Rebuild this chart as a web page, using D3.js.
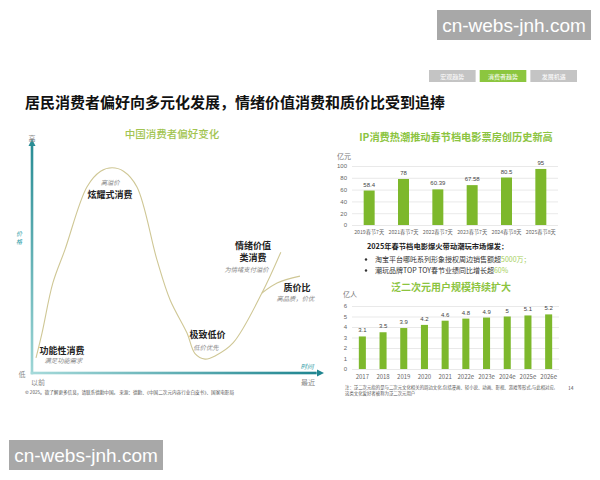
<!DOCTYPE html>
<html><head><meta charset="utf-8">
<script src="https://cdn.jsdelivr.net/npm/d3@7"></script>
<style>
body{margin:0;background:#fff;}
svg{display:block;font-family:"Noto Sans CJK SC","Noto Sans",sans-serif;}
</style></head>
<body><svg id="c" width="600" height="480"></svg>
<script>
// ---------- data ----------
const pageTitle = "居民消费者偏好向多元化发展，情绪价值消费和质价比受到追捧";
const tabs = ["宏观趋势","消费者趋势","发展机遇"];
const activeTab = 1;

// left conceptual curve (time 0-100, price level 0-100)
const curveTime  = [1.4, 3.5, 7.3, 11.5, 19.2, 24, 28, 32, 36.7, 43.7, 48.3, 54.2, 57, 60.5, 64, 70.3, 80.4, 87];
const curvePrice = [6.6, 17.5, 39.5, 54, 81.6, 88.5, 90, 88.5, 81.6, 49.6, 32, 17.5, 8.5, 6.1, 7.5, 13.2, 35.1, 53];
const branchTime  = [80.4, 85.7, 93.7];
const branchPrice = [35.1, 39.5, 42.5];
const stageNames = ["炫耀式消费","情绪价值\n类消费","质价比","极致低价","功能性消费"];
const stageNotes = ["高溢价","为情绪支付溢价","高品质，价优","低价优先","满足功能需求"];
const stageNameT = [27.3, 77.3, 92.7, 61.4, 10.5];
const stageNoteT = [27.3, 75, 92.1, 60.8, 11];
const stageNameP = [76.8, 54.2, 35.8, 15.4, 8.3];
const stageNoteP = [82.5, 44.3, 31.4, 10, 4.4];

// box office chart
const boxCats = ["2019春节7天","2021春节7天","2022春节7天","2023春节7天","2024春节8天","2025春节8天"];
const boxVals = [58.4, 78, 60.39, 67.58, 80.5, 95];
const boxTicks = [0,20,40,60,80,100];

// ACG users chart
const userCats = ["2017","2018","2019","2020","2021","2022e","2023e","2024e","2025e","2026e"];
const userVals = [3.1, 3.5, 3.9, 4.2, 4.6, 4.8, 4.9, 5, 5.1, 5.2];
const userTicks = [0,1,2,3,4,5,6];

// ---------- drawing ----------
const svg = d3.select("#c");
const green = "#7db82c", titleGreen = "#8cc43f";

// watermarks
function watermark(x,y){
  svg.append("rect").attr("x",x).attr("y",y).attr("width",154).attr("height",30).attr("fill","#a8a8a8");
  svg.append("text").attr("x",x+77).attr("y",y+22).attr("text-anchor","middle")
    .attr("font-family","Liberation Sans, Arial, sans-serif").attr("font-size",19).attr("fill","#fff").text("cn-webs-jnh.com");
}
watermark(437,10);
watermark(9,440);

// tabs
const tabX = d3.scaleBand().domain(tabs).range([429,577]).paddingInner(0.08);
tabs.forEach((t,i)=>{
  svg.append("rect").attr("x",tabX(t)).attr("y",70).attr("width",tabX.bandwidth()).attr("height",12)
    .attr("fill", i===activeTab ? "#8cc63f" : "#c4c4c4");
  svg.append("text").attr("x",tabX(t)+tabX.bandwidth()/2).attr("y",79).attr("text-anchor","middle")
    .attr("font-size",6).attr("fill","#fff").text(t);
});

// title
svg.append("text").attr("x",25).attr("y",108).attr("font-size",15).attr("font-weight","bold")
  .attr("fill","#111").text(pageTitle);

// ---------- left chart ----------
const tx = d3.scaleLinear().domain([0,100]).range([32,318]);
const py = d3.scaleLinear().domain([0,100]).range([373,145]);
const defs = svg.append("defs");
const gv = defs.append("linearGradient").attr("id","gv").attr("x1",0).attr("y1",1).attr("x2",0).attr("y2",0);
gv.append("stop").attr("offset","0%").attr("stop-color","#9ed6d6");
gv.append("stop").attr("offset","100%").attr("stop-color","#2a8d95");
const gh = defs.append("linearGradient").attr("id","gh").attr("x1",0).attr("y1",0).attr("x2",1).attr("y2",0);
gh.append("stop").attr("offset","0%").attr("stop-color","#a6dada");
gh.append("stop").attr("offset","100%").attr("stop-color","#1f8590");

svg.append("text").attr("x",172).attr("y",138).attr("text-anchor","middle").attr("font-size",10.5)
  .attr("fill","#a2c450").attr("font-weight","500").text("中国消费者偏好变化");

svg.append("rect").attr("x",tx(0)-1.3).attr("y",py(100)).attr("width",2.6).attr("height",py(0)-py(100)+1.3).attr("fill","url(#gv)");
svg.append("path").attr("d",`M${tx(0)-3.5},${py(100)+1}L${tx(0)},${py(100)-6}L${tx(0)+3.5},${py(100)+1}Z`).attr("fill","#2a8d95");
svg.append("rect").attr("x",tx(0)-1.3).attr("y",py(0)-1.3).attr("width",tx(100)-tx(0)).attr("height",2.6).attr("fill","url(#gh)");
svg.append("path").attr("d",`M${tx(100)-1},${py(0)-3.5}L${tx(100)+6},${py(0)}L${tx(100)-1},${py(0)+3.5}Z`).attr("fill","#1f8590");

svg.append("text").attr("x",tx(0)).attr("y",py(100)-4).attr("text-anchor","middle").attr("font-size",7).attr("fill","#888").text("高");
svg.append("text").attr("x",22).attr("y",py(0)+4).attr("text-anchor","middle").attr("font-size",7).attr("fill","#888").text("低");
svg.append("text").attr("x",38).attr("y",py(0)+12).attr("text-anchor","middle").attr("font-size",7).attr("fill","#888").text("以前");
svg.append("text").attr("x",308).attr("y",py(0)+12).attr("text-anchor","middle").attr("font-size",7).attr("fill","#888").text("最近");
svg.append("text").attr("x",307).attr("y",py(0)-4).attr("text-anchor","middle").attr("font-size",6.5)
  .attr("font-style","italic").attr("fill","#2a9aa5").text("时间");
["价","格"].forEach((c,i)=>svg.append("text").attr("x",19).attr("y",236+i*7.5).attr("text-anchor","middle")
  .attr("font-size",6).attr("font-style","italic").attr("fill","#2a9aa5").text(c));

const line = d3.line().x(d=>tx(d[0])).y(d=>py(d[1])).curve(d3.curveCatmullRom.alpha(0.5));
svg.append("path").attr("d",line(d3.zip(curveTime,curvePrice))).attr("fill","none").attr("stroke","#cfc795").attr("stroke-width",1.1);
svg.append("path").attr("d",line(d3.zip(branchTime,branchPrice))).attr("fill","none").attr("stroke","#cfc795").attr("stroke-width",1.1);

stageNames.forEach((n,i)=>{
  n.split("\n").forEach((l,j)=>{
    svg.append("text").attr("x",tx(stageNameT[i])).attr("y",py(stageNameP[i])+j*11.6).attr("text-anchor","middle")
      .attr("font-size",9).attr("font-weight","bold").attr("fill","#222").text(l);
  });
  svg.append("text").attr("x",tx(stageNoteT[i])).attr("y",py(stageNoteP[i])).attr("text-anchor","middle")
    .attr("font-size",6.3).attr("font-style","italic").attr("fill","#888").text(stageNotes[i]);
});

svg.append("text").attr("x",25).attr("y",394).attr("font-size",4.6).attr("fill","#555")
  .text("© 2025。欲了解更多信息，请联系德勤中国。        来源：德勤、《中国二次元内容行业白皮书》、国家电影局");

// ---------- bar charts ----------
function barChart(cats, vals, ticks, yRange, xRange, padIn, xLabY, xLabSize){
  const x = d3.scaleBand().domain(cats).range(xRange).paddingInner(padIn).paddingOuter(padIn/2);
  const y = d3.scaleLinear().domain([ticks[0], ticks[ticks.length-1]]).range(yRange);
  const ax = svg.append("g").attr("transform",`translate(${xRange[0]},0)`)
    .call(d3.axisLeft(y).tickValues(ticks).tickFormat(d3.format("d")).tickSize(-(xRange[1]-xRange[0])).tickPadding(5));
  ax.select(".domain").remove();
  ax.selectAll(".tick line").attr("stroke","#e3e3e3").attr("stroke-width",0.8);
  ax.selectAll(".tick text").attr("font-size",6).attr("fill","#666").attr("font-family","Liberation Sans, Arial, sans-serif");
  svg.selectAll(null).data(cats).enter().append("rect")
    .attr("x",d=>x(d)).attr("width",x.bandwidth())
    .attr("y",(d,i)=>y(vals[i])).attr("height",(d,i)=>y(0)-y(vals[i])).attr("fill",green);
  svg.selectAll(null).data(cats).enter().append("text")
    .attr("x",d=>x(d)+x.bandwidth()/2).attr("y",(d,i)=>y(vals[i])-4).attr("text-anchor","middle")
    .attr("font-size",6).attr("fill","#444").attr("font-family","Liberation Sans, Arial, sans-serif").text((d,i)=>vals[i]);
  svg.selectAll(null).data(cats).enter().append("text")
    .attr("x",d=>x(d)+x.bandwidth()/2).attr("y",xLabY).attr("text-anchor","middle")
    .attr("font-size",xLabSize).attr("fill","#666").text(d=>d);
}

svg.append("text").attr("x",456).attr("y",141).attr("text-anchor","middle").attr("font-size",10.2)
  .attr("font-weight","bold").attr("fill",titleGreen).text("IP消费热潮推动春节档电影票房创历史新高");
svg.append("text").attr("x",337).attr("y",159).attr("font-size",7).attr("fill","#777").text("亿元");
barChart(boxCats, boxVals, boxTicks, [225,166], [352,558], 0.68, 234, 5.2);

svg.append("text").attr("x",367).attr("y",249).attr("font-size",7.3).attr("font-weight","bold").attr("fill","#222")
  .text("2025年春节档电影爆火带动潮玩市场爆发：");
const b1 = svg.append("text").attr("x",375).attr("y",262).attr("font-size",7).attr("fill","#333");
b1.append("tspan").text("淘宝平台哪吒系列形象授权周边销售额超");
b1.append("tspan").attr("fill","#a6cf5a").text("5000万；");
const b2 = svg.append("text").attr("x",375).attr("y",273).attr("font-size",7).attr("fill","#333");
b2.append("tspan").text("潮玩品牌TOP TOY春节业绩同比增长超");
b2.append("tspan").attr("fill","#a6cf5a").text("60%");
[262,273].forEach(yy=>svg.append("circle").attr("cx",366).attr("cy",yy-2.5).attr("r",1.2).attr("fill","#333"));

svg.append("text").attr("x",451).attr("y",291).attr("text-anchor","middle").attr("font-size",10)
  .attr("font-weight","bold").attr("fill",titleGreen).text("泛二次元用户规模持续扩大");
svg.append("text").attr("x",343).attr("y",297).attr("font-size",7).attr("fill","#777").text("亿人");
barChart(userCats, userVals, userTicks, [369,306], [352,559], 0.66, 379, 6);

svg.append("text").attr("x",345).attr("y",389).attr("font-size",4.4).attr("fill","#555")
  .text("注：泛二次元指的是与二次元文化相关的周边文化,包括漫画、轻小说、动画、影视、游戏等形式,与此相对应,");
svg.append("text").attr("x",345).attr("y",395).attr("font-size",4.4).attr("fill","#555")
  .text("这类文化爱好者被称为泛二次元用户");
svg.append("text").attr("x",568).attr("y",390).attr("font-size",5).attr("fill","#555").text("14");
</script></body></html>
